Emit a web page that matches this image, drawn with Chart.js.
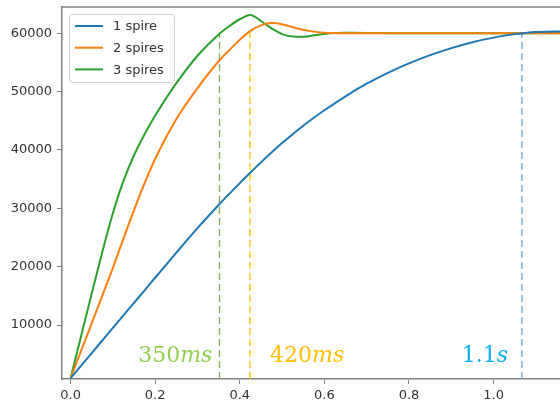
<!DOCTYPE html>
<html>
<head>
<meta charset="UTF-8">
<title>Spires</title>
<script src="https://cdn.jsdelivr.net/npm/chart.js"></script>
<style>
  html, body { margin: 0; padding: 0; background: #fff; }
</style>
</head>
<body>
<canvas id="chart" width="560" height="408"></canvas>
<script>
// values
const times  = [0, 0.025, 0.05, 0.075, 0.1, 0.125, 0.15, 0.175, 0.2, 0.25, 0.3, 0.35, 0.375, 0.4, 0.425, 0.45, 0.475, 0.5, 0.525, 0.55, 0.575, 0.6, 0.65, 0.7, 0.75, 0.8, 0.85, 0.9, 0.95, 1.0, 1.05, 1.075, 1.1, 1.125, 1.157];
const spire1 = [900, 3050, 5200, 7350, 9500, 11650, 13800, 15950, 18100, 22400, 26600, 30575, 32475, 34325, 36125, 37875, 39563, 41175, 42706, 44150, 45513, 46800, 49200, 51350, 53225, 54850, 56250, 57450, 58463, 59250, 59850, 60050, 60200, 60270, 60300];
const spire2 = [900, 5600, 10300, 15050, 19800, 24800, 29700, 34300, 38500, 45300, 50600, 55200, 57100, 58900, 60400, 61350, 61750, 61550, 61050, 60600, 60280, 60080, 60000, 60000, 60000, 60000, 60000, 60000, 60000, 60000, 60000, 60000, 60000, 60000, 60000];
const spire3 = [900, 8150, 15400, 22525, 29150, 34700, 39100, 42700, 45900, 51450, 56150, 59800, 61200, 62400, 63150, 62100, 60850, 59850, 59450, 59400, 59650, 59880, 60070, 60060, 60020, 60000, 60000, 60000, 60000, 60000, 60000, 60000, 60000, 60000, 60000];
const seriesNames = ['1 spire', '2 spires', '3 spires'];

const xTicks = [0, 0.2, 0.4, 0.6, 0.8, 1.0];
const yTicks = [10000, 20000, 30000, 40000, 50000, 60000];

// settling times marked with dashed lines
const markerTimes  = [0.352, 0.424, 1.067];
const markerTops   = [60000, 60500, 60000];
const markerLabels = ['350ms', '420ms', '1.1s'];

const lineColors   = ['#1f77b4', '#ff7f0e', '#2ca02c'];
const markerColors = ['#7fb055', '#ffc000', '#5ea5e6'];
const labelColors  = ['#92d050', '#ffc000', '#00b0f0'];
const labelAnchors = [[0.160, 3710], [0.4716, 3710], [0.925, 3710]];

const yMin = 750;

function pts(vals) {
    return times.map((t, i) => ({ x: t, y: vals[i] }));
}

const datasets = [spire1, spire2, spire3].map((vals, i) => ({
    label: seriesNames[i],
    data: pts(vals),
    borderColor: lineColors[i],
    borderWidth: 2,
    pointRadius: 0,
    fill: false,
    cubicInterpolationMode: 'monotone'
}));

markerTimes.forEach((t, i) => {
    datasets.push({
        label: 'marker' + i,
        data: [{ x: t, y: yMin }, { x: t, y: markerTops[i] }],
        borderColor: markerColors[i],
        borderWidth: 1.3,
        borderDash: [7, 4],
        pointRadius: 0,
        fill: false
    });
});

const framePlugin = {
    id: 'frame',
    afterDatasetsDraw(chart) {
        const { ctx, chartArea } = chart;
        ctx.save();
        ctx.strokeStyle = '#808080';
        ctx.lineWidth = 1.5;
        ctx.beginPath();
        ctx.moveTo(chartArea.left, chartArea.top);
        ctx.lineTo(chartArea.right, chartArea.top);
        ctx.stroke();
        ctx.restore();
    }
};

const labelPlugin = {
    id: 'timeLabels',
    afterDatasetsDraw(chart) {
        const ctx = chart.ctx;
        const xs = chart.scales.x, ys = chart.scales.y;
        ctx.save();
        ctx.textBaseline = 'alphabetic';
        ctx.textAlign = 'left';
        markerLabels.forEach((txt, i) => {
            const m = txt.match(/^([\d.]+)(.*)$/);
            let x = xs.getPixelForValue(labelAnchors[i][0]);
            const y = ys.getPixelForValue(labelAnchors[i][1]);
            ctx.fillStyle = labelColors[i];
            ctx.font = '22px "DejaVu Serif"';
            ctx.fillText(m[1], x, y);
            x += ctx.measureText(m[1]).width;
            ctx.font = 'italic 22px "DejaVu Serif"';
            ctx.fillText(m[2], x, y);
        });
        ctx.restore();
    }
};

const legendPlugin = {
    id: 'boxLegend',
    afterDraw(chart) {
        const { ctx, chartArea } = chart;
        const bx = chartArea.left + 7, by = chartArea.top + 7;
        const bw = 105, bh = 68;
        ctx.save();
        ctx.fillStyle = 'rgba(255,255,255,0.85)';
        ctx.strokeStyle = '#d0d0d0';
        ctx.lineWidth = 1;
        ctx.beginPath();
        ctx.roundRect(bx + 0.5, by + 0.5, bw, bh, 3);
        ctx.fill();
        ctx.stroke();
        ctx.font = '13px "DejaVu Sans"';
        ctx.textBaseline = 'middle';
        ctx.fillStyle = '#333';
        seriesNames.forEach((name, i) => {
            const y = by + 12 + i * 21.7;
            ctx.strokeStyle = lineColors[i];
            ctx.lineWidth = 2;
            ctx.beginPath();
            ctx.moveTo(bx + 6, y);
            ctx.lineTo(bx + 34, y);
            ctx.stroke();
            ctx.fillText(name, bx + 44, y + 1);
        });
        ctx.restore();
    }
};

new Chart(document.getElementById('chart'), {
    type: 'line',
    data: { datasets },
    options: {
        responsive: false,
        animation: false,
        layout: { padding: { top: 7, left: 0, right: 0, bottom: 0 } },
        plugins: { legend: { display: false }, tooltip: { enabled: false } },
        scales: {
            x: {
                type: 'linear',
                min: -0.0203,
                max: 1.157,
                afterBuildTicks: s => { s.ticks = xTicks.map(v => ({ value: v })); },
                afterFit: s => { s.height = 29; s.paddingLeft = 0; s.paddingRight = 0; },
                ticks: {
                    callback: v => v.toFixed(1),
                    font: { family: 'DejaVu Sans', size: 13 },
                    color: '#333',
                    padding: 4,
                    maxRotation: 0,
                    autoSkip: false
                },
                grid: { drawOnChartArea: false, tickLength: 5, color: '#808080' },
                border: { color: '#808080', width: 1.5 }
            },
            y: {
                min: yMin,
                max: 64500,
                afterBuildTicks: s => { s.ticks = yTicks.map(v => ({ value: v })); },
                afterFit: s => { s.width = 62; s.paddingTop = 0; s.paddingBottom = 0; },
                ticks: {
                    callback: v => String(v),
                    font: { family: 'DejaVu Sans', size: 13 },
                    color: '#333',
                    padding: 5,
                    autoSkip: false
                },
                grid: { drawOnChartArea: false, tickLength: 5, color: '#808080' },
                border: { color: '#808080', width: 1.5 }
            }
        }
    },
    plugins: [framePlugin, labelPlugin, legendPlugin]
});
</script>
</body>
</html>
